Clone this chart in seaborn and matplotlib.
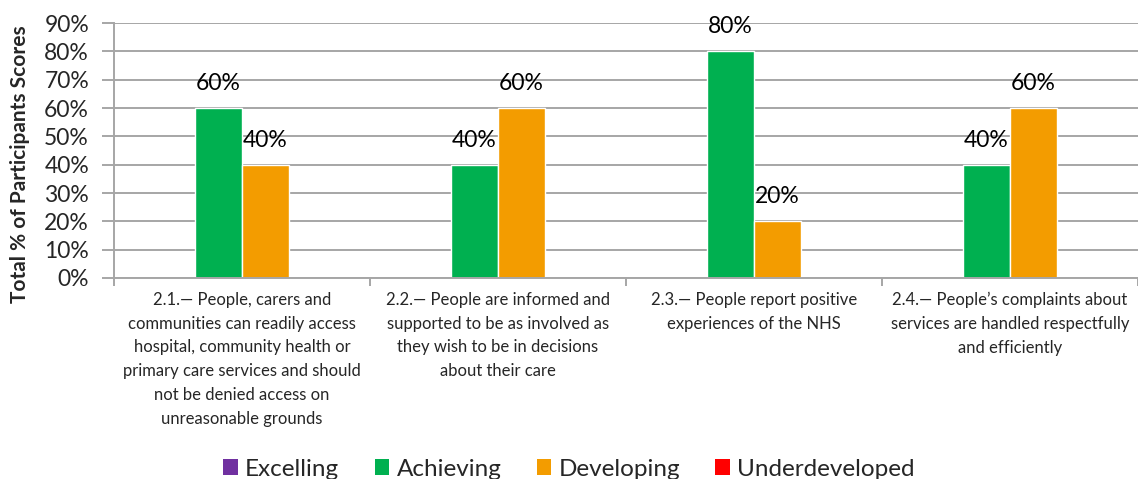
import matplotlib
matplotlib.use("Agg")
import matplotlib.pyplot as plt
from matplotlib.patches import Patch
from matplotlib.ticker import FixedLocator
import seaborn as sns
import pandas as pd

categories = [
    "2.1.\u2014 People, carers and\ncommunities can readily access\nhospital, community health or\nprimary care services and should\nnot be denied access on\nunreasonable grounds",
    "2.2.\u2014 People are informed and\nsupported to be as involved as\nthey wish to be in decisions\nabout their care",
    "2.3.\u2014 People report positive\nexperiences of the NHS",
    "2.4.\u2014 People\u2019s complaints about\nservices are handled respectfully\nand efficiently",
]
series = ["Excelling", "Achieving", "Developing", "Underdeveloped"]
excelling = [0, 0, 0, 0]
achieving = [60, 40, 80, 40]
developing = [40, 60, 20, 60]
underdeveloped = [0, 0, 0, 0]
colors = ["#7030A0", "#00B050", "#F39C00", "#FF0000"]
yticks = [0, 10, 20, 30, 40, 50, 60, 70, 80, 90]

rows = []
for s, vals in zip(series, [excelling, achieving, developing, underdeveloped]):
    for c, v in zip(categories, vals):
        rows.append({"category": c, "series": s, "value": v})
df = pd.DataFrame(rows)

sns.set_style("white")
plt.rcParams["font.family"] = ["Lato", "DejaVu Sans"]

fig = plt.figure(figsize=(11.38, 4.79), dpi=100)
ax = fig.add_axes([114 / 1138, 1 - 278 / 479, 1 - 114 / 1138, (278 - 23) / 479])

sns.barplot(data=df, x="category", y="value", hue="series", hue_order=series,
            order=categories, palette=colors, width=0.735, gap=0, saturation=1,
            legend=False, ax=ax, errorbar=None)

for cont in ax.containers:
    labels = [f"{int(b.get_height())}%" if b.get_height() > 0 else "" for b in cont]
    ax.bar_label(cont, labels=labels, padding=10, fontsize=16.5, color="#000000")

ax.set_ylim(0, 90)
ax.set_xlim(-0.5, 3.5)
ax.set_yticks(yticks)
ax.set_yticklabels([f"{v}%" for v in yticks], fontsize=16.5)
ax.yaxis.grid(True, color="#A6A6A6", linewidth=1.4)
ax.set_axisbelow(True)
ax.tick_params(axis="y", length=9, width=1.4, color="#A6A6A6", pad=9, left=True)

ax.set_xticks(range(len(categories)))
ax.set_xticklabels(categories, fontsize=12, linespacing=1.6)
ax.tick_params(axis="x", which="major", length=0, pad=10)
ax.xaxis.set_minor_locator(FixedLocator([-0.5, 0.5, 1.5, 2.5, 3.5]))
ax.tick_params(axis="x", which="minor", length=6, width=1.4, color="#A6A6A6", bottom=True)

for side in ["top", "right"]:
    ax.spines[side].set_visible(False)
ax.spines["left"].set_color("#A6A6A6")
ax.spines["left"].set_linewidth(1.4)
ax.spines["bottom"].set_color("#A6A6A6")
ax.spines["bottom"].set_linewidth(1.4)

ax.set_xlabel("")
ax.set_ylabel("Total % of Participants Scores", fontsize=15, fontweight="bold")
ax.yaxis.set_label_coords(-0.082, 0.447)

handles = [Patch(facecolor=c, edgecolor="none") for c in colors]
fig.legend(handles, series, loc="center", bbox_to_anchor=(0.5, 1 - 469 / 479), ncol=4,
           frameon=False, fontsize=17.5, handlelength=0.6, handleheight=0.6,
           handletextpad=0.3, columnspacing=1.45, borderaxespad=0)

fig.savefig("out.png", dpi=100)
